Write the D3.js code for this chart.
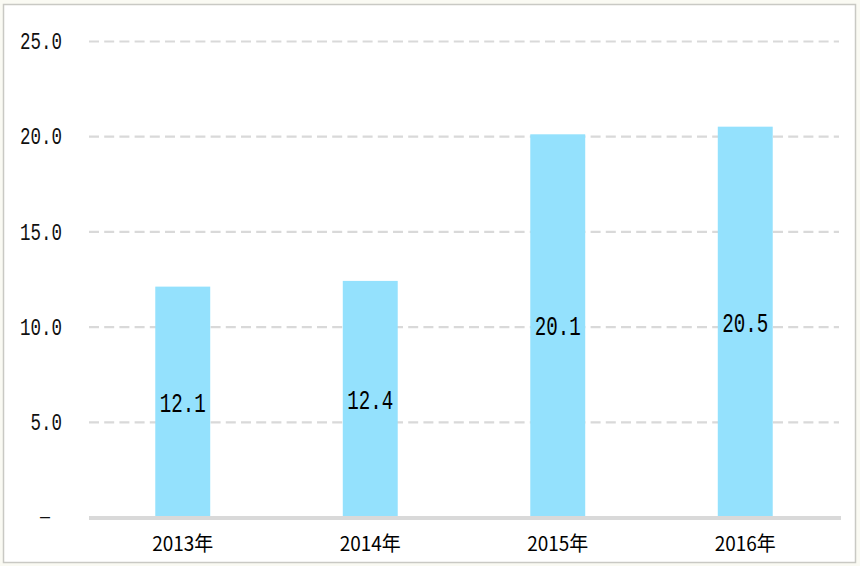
<!DOCTYPE html>
<html><head><meta charset="utf-8">
<script src="https://cdn.jsdelivr.net/npm/d3@7/dist/d3.min.js"></script>
<style>
html,body{margin:0;padding:0;background:#fafaf3;}
svg{display:block;}
</style></head>
<body>
<script>
const categories = ["2013年", "2014年", "2015年", "2016年"];
const values = [12.1, 12.4, 20.1, 20.5];
const yTicks = [0, 5, 10, 15, 20, 25];
const yTickLabels = ["–", "5.0", "10.0", "15.0", "20.0", "25.0"];
const valueLabels = ["12.1", "12.4", "20.1", "20.5"];

(function() {
const W = 860, H = 566;
const svg = d3.select("body").append("svg").attr("width", W).attr("height", H);
svg.append("rect").attr("x", 3.5).attr("y", 4.5).attr("width", 852).attr("height", 558)
  .attr("fill", "#ffffff").attr("stroke", "#c9c9c4").attr("stroke-width", 1.5);

const mLeft = 89, mRight = 839, mTop = 41, mBottom = 517;
const x = d3.scaleBand().domain(categories).range([mLeft, mRight]).paddingInner(0.707).paddingOuter(0.3535);
const y = d3.scaleLinear().domain([0, 25]).range([mBottom, mTop]);

const font = "'Liberation Mono', 'DejaVu Sans Mono', monospace";

// gridlines
svg.append("g").selectAll("line").data(yTicks.filter(d => d > 0)).join("line")
  .attr("x1", mLeft).attr("x2", mRight)
  .attr("y1", d => y(d) + 0.5).attr("y2", d => y(d) + 0.5)
  .attr("stroke", "#d9d9d9").attr("stroke-width", 2.2).attr("stroke-dasharray", "10,5.2");

// y labels
svg.append("g").selectAll("text").data(yTicks).join("text")
  .attr("x", 62).attr("y", d => y(d))
  .attr("dy", "0.36em")
  .attr("text-anchor", "end")
  .attr("font-family", font).attr("font-size", 23)
  .attr("fill", "#111")
  .each(function(d, i) {
    const t = d3.select(this).text(yTickLabels[i]);
    if (d === 0) t.attr("x", 45).attr("text-anchor", "middle").attr("dy", "0.3em").attr("font-size", 18)
      .attr("font-family", "'Liberation Sans', sans-serif");
    else t.attr("textLength", yTickLabels[i].length * 10.5).attr("lengthAdjust", "spacingAndGlyphs");
  });

// bars
svg.append("g").selectAll("rect").data(values).join("rect")
  .attr("x", (d, i) => x(categories[i]))
  .attr("width", x.bandwidth())
  .attr("y", d => y(d))
  .attr("height", d => y(0) - y(d))
  .attr("fill", "#94e1fd");

// x axis line
svg.append("line").attr("x1", mLeft).attr("x2", 841).attr("y1", mBottom + 1).attr("y2", mBottom + 1)
  .attr("stroke", "#d9d9d9").attr("stroke-width", 4);

// value labels
svg.append("g").selectAll("text").data(values).join("text")
  .attr("x", (d, i) => x(categories[i]) + x.bandwidth() / 2)
  .attr("y", d => (y(d) + y(0)) / 2)
  .attr("dy", "0.36em")
  .attr("text-anchor", "middle")
  .attr("font-family", font).attr("font-size", 27)
  .attr("fill", "#000")
  .attr("textLength", 46).attr("lengthAdjust", "spacingAndGlyphs")
  .text((d, i) => valueLabels[i]);

// x labels
svg.append("g").selectAll("text").data(categories).join("text")
  .attr("x", d => x(d) + x.bandwidth() / 2)
  .attr("y", 544)
  .attr("dy", "0.36em")
  .attr("text-anchor", "middle")
  .attr("font-family", "'Noto Sans CJK JP', sans-serif").attr("font-size", 20)
  .attr("fill", "#000")
  .attr("textLength", 61).attr("lengthAdjust", "spacingAndGlyphs")
  .text(d => d);
})();
</script>
</body></html>
